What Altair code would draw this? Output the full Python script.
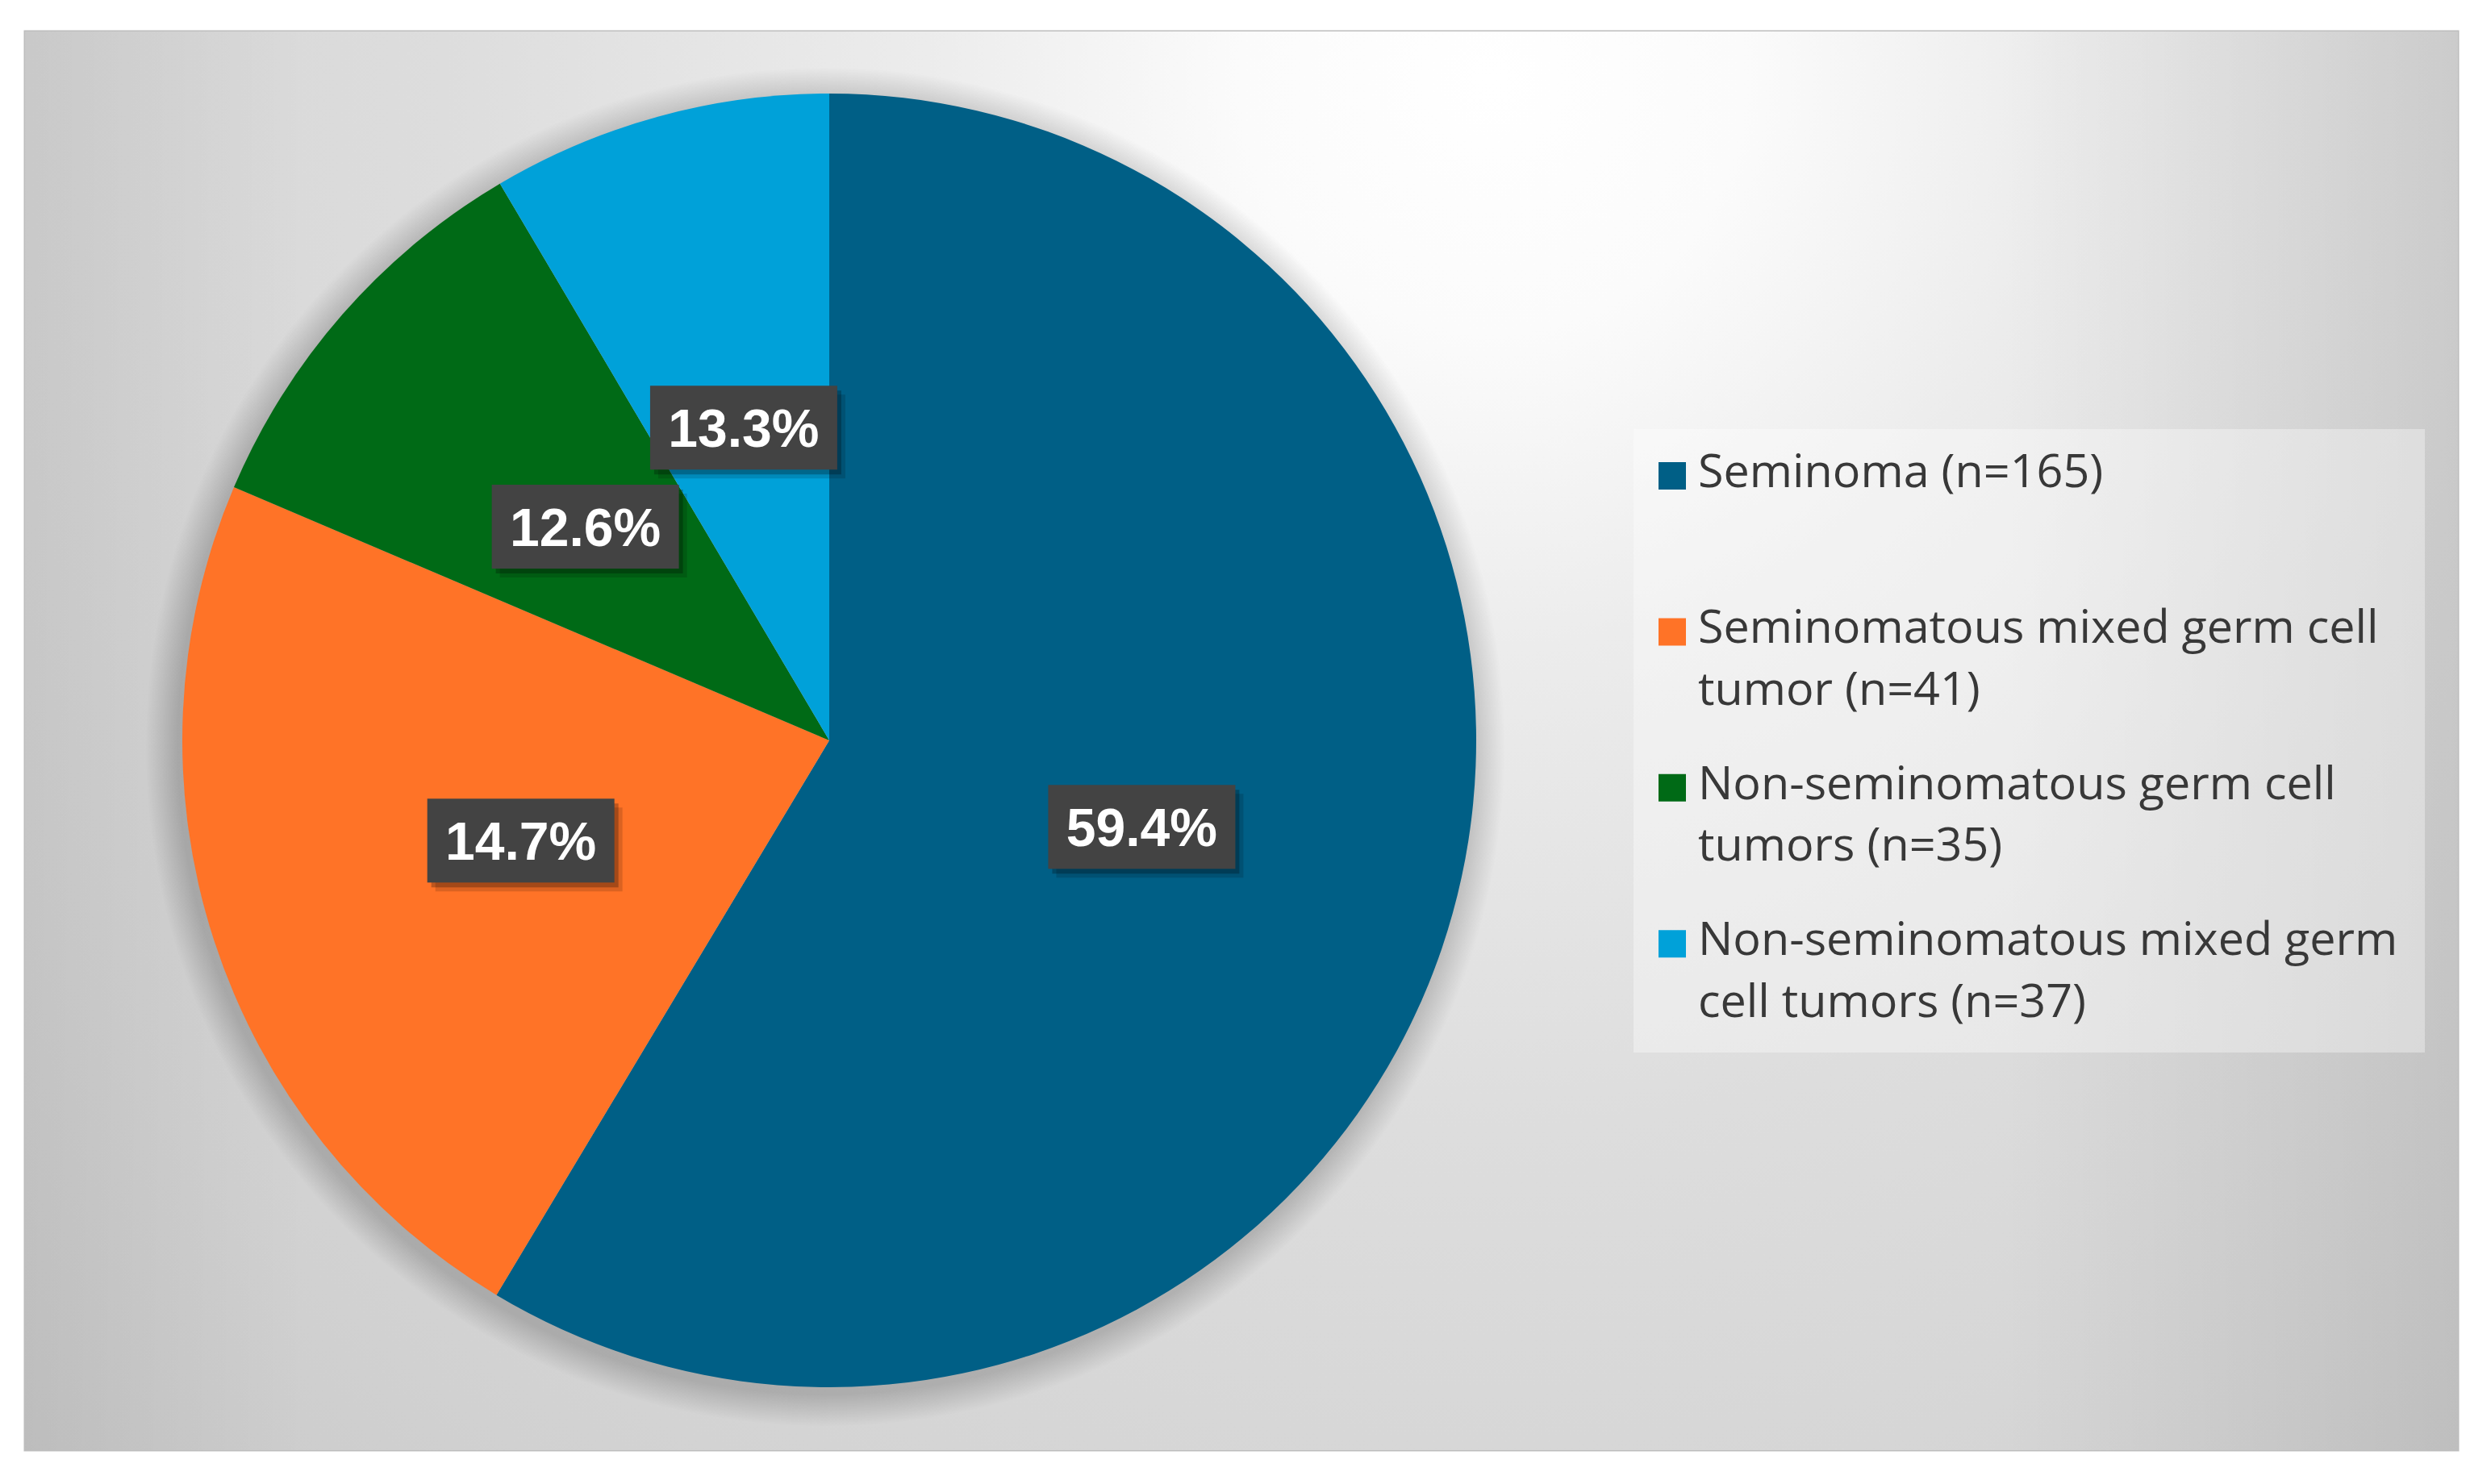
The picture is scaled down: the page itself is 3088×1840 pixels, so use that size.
import altair as alt
import pandas as pd

# ---- data -------------------------------------------------------------
categories = [
    "Seminoma (n=165)",
    "Seminomatous mixed germ cell tumor (n=41)",
    "Non-seminomatous germ cell tumors (n=35)",
    "Non-seminomatous mixed germ cell tumors (n=37)",
]
legend_lines = [
    "Seminoma (n=165)",
    "Seminomatous mixed germ cell|tumor (n=41)",
    "Non-seminomatous germ cell|tumors (n=35)",
    "Non-seminomatous mixed germ|cell tumors (n=37)",
]
slice_share = [58.6, 22.8, 10.1, 8.5]          # angular share of each slice as drawn
label_text = ["59.4%", "14.7%", "12.6%", "13.3%"]  # data labels as printed
colors = ["#005F86", "#FF7327", "#006A16", "#00A1D9"]

# ---- layout (plot area = the grey chart panel) ------------------------
W, H = 3016, 1759
CX, CY, R = 997, 879, 802
LR = 402
BW, BH = 232, 104
GX, GY, GA, GB = 1819, 61, 2600, 2000   # background glow centre / radii

df = pd.DataFrame({
    "category": categories,
    "legend": legend_lines,
    "share": slice_share,
    "label": label_text,
    "order": list(range(len(categories))),
})
one = pd.DataFrame({"k": [0]})

px = alt.Scale(domain=[0, W], range=[0, W], nice=False, zero=False)
py = alt.Scale(domain=[0, H], range=[0, H], nice=False, zero=False)
cscale = alt.Scale(domain=categories, range=colors)

glow = alt.Chart(one).mark_rect(
    clip=True,
    fill=alt.Gradient(
        gradient="radial",
        x1=0.5, y1=0.5, r1=0,
        x2=0.5, y2=0.5, r2=0.5,
        stops=[
            alt.GradientStop(color="#ffffff", offset=0),
            alt.GradientStop(color="#fbfbfb", offset=0.12),
            alt.GradientStop(color="#ececec", offset=0.27),
            alt.GradientStop(color="#dddddd", offset=0.5),
            alt.GradientStop(color="#d1d1d1", offset=0.8),
            alt.GradientStop(color="#c6c6c6", offset=1),
        ],
    ),
).encode(x=alt.value(GX - GA), x2=alt.value(GX + GA), y=alt.value(GY - GB), y2=alt.value(GY + GB))

right_shade = alt.Chart(one).mark_rect(
    fill=alt.Gradient(
        gradient="linear", x1=0, y1=0, x2=1, y2=0,
        stops=[
            alt.GradientStop(color="rgba(0,0,0,0)", offset=0),
            alt.GradientStop(color="rgba(0,0,0,0.09)", offset=1),
        ],
    ),
).encode(x=alt.value(2450), x2=alt.value(W), y=alt.value(0), y2=alt.value(H))

left_shade = alt.Chart(one).mark_rect(
    fill=alt.Gradient(
        gradient="linear", x1=0, y1=0, x2=1, y2=0,
        stops=[
            alt.GradientStop(color="rgba(0,0,0,0.06)", offset=0),
            alt.GradientStop(color="rgba(0,0,0,0)", offset=1),
        ],
    ),
).encode(x=alt.value(0), x2=alt.value(350), y=alt.value(0), y2=alt.value(H))

# soft drop shadow of the pie: many faint discs of growing radius
shadows = [
    alt.Chart(one).mark_arc(theta=0, theta2=6.2832, radius=R + k, color="black", opacity=0.009)
    .encode(x=alt.value(CX - 5), y=alt.value(CY + 8))
    for k in range(40, 0, -2)
]

pie = alt.Chart(df).mark_arc(radius=R).encode(
    theta=alt.Theta("share:Q", stack=True),
    color=alt.Color("category:N", scale=cscale, legend=None),
    order=alt.Order("order:Q"),
    x=alt.value(CX),
    y=alt.value(CY),
)

lab = alt.Chart(df).transform_window(
    cum="sum(share)", sort=[alt.SortField("order")]
).transform_joinaggregate(total="sum(share)").transform_calculate(
    mid="(datum.cum - datum.share / 2) / datum.total * 2 * PI",
).transform_calculate(
    lx=f"{CX} + {LR} * sin(datum.mid)",
    ly=f"{CY} - {LR} * cos(datum.mid)",
).transform_calculate(
    bx1=f"datum.lx - {BW / 2}",
    bx2=f"datum.lx + {BW / 2}",
    by1=f"datum.ly - {BH / 2}",
    by2=f"datum.ly + {BH / 2}",
)

def box_layer(**kw):
    return lab.mark_rect(**kw).encode(
        x=alt.X("bx1:Q", scale=px, axis=None), x2="bx2:Q",
        y=alt.Y("by1:Q", scale=py, axis=None), y2="by2:Q")

box_shadow1 = box_layer(color="black", opacity=0.14, xOffset=10, x2Offset=10, yOffset=11, y2Offset=11)
box_shadow2 = box_layer(color="black", opacity=0.25, xOffset=5, x2Offset=5, yOffset=6, y2Offset=6)
box = box_layer(color="#434343")
txt = lab.mark_text(
    font="Liberation Sans", fontWeight="bold", fontSize=66, color="white",
    align="center", baseline="alphabetic", dy=24,
).encode(
    x=alt.X("lx:Q", scale=px, axis=None),
    y=alt.Y("ly:Q", scale=py, axis=None),
    text="label:N",
)

legend_box = alt.Chart(one).mark_rect(color="white", opacity=0.35).encode(
    x=alt.value(1994), x2=alt.value(2975), y=alt.value(493), y2=alt.value(1266))

leg = alt.Chart(df).transform_calculate(
    ty="565 + 193.4 * datum.order",
    lines="split(datum.legend, '|')",
).transform_calculate(sy="datum.ty - 14")

leg_sq = leg.mark_square(size=34 * 34, filled=True, opacity=1).encode(
    x=alt.value(2042),
    y=alt.Y("sy:Q", scale=py, axis=None),
    color=alt.Color("category:N", scale=cscale, legend=None),
)
leg_txt = leg.mark_text(
    font="Open Sans", fontSize=57.5, color="#383838", align="left",
    baseline="alphabetic", lineHeight=76.5,
).encode(
    x=alt.value(2074),
    y=alt.Y("ty:Q", scale=py, axis=None),
    text="lines:N",
)

chart = alt.layer(
    glow, right_shade, left_shade, *shadows, pie, legend_box, leg_sq, leg_txt,
    box_shadow1, box_shadow2, box, txt
).properties(
    width=W, height=H,
    padding={"left": 23, "top": 31, "right": 10, "bottom": 10},
    autosize=alt.AutoSizeParams(type="none"),
    background="white",
).configure_view(stroke="#bdbdbd", strokeWidth=3)

chart.save("out.html", embed_options={"renderer": "svg", "actions": False})
